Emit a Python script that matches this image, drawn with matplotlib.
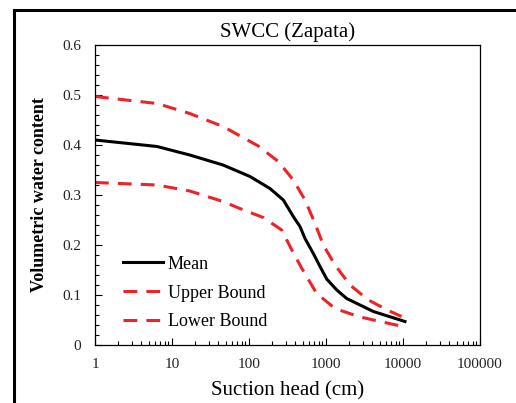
import matplotlib
matplotlib.use("Agg")
import matplotlib.pyplot as plt
from matplotlib.ticker import LogLocator, MultipleLocator, FuncFormatter, NullFormatter
from matplotlib.lines import Line2D

plt.rcParams['font.family'] = ['Liberation Serif', 'DejaVu Serif']

# Data
mean_x = [1, 6.4, 17, 46, 103, 187, 279, 376, 459, 534, 684, 850, 1021, 1380, 1855, 4120, 10600]
mean_y = [0.41, 0.397, 0.38, 0.36, 0.337, 0.313, 0.29, 0.257, 0.237, 0.213, 0.183, 0.155, 0.132, 0.11, 0.093, 0.067, 0.047]

upper_x = [1, 6.4, 17, 46, 132, 240, 376, 534, 720, 922, 1309, 2050, 3550, 6450, 9560]
upper_y = [0.497, 0.483, 0.463, 0.437, 0.398, 0.367, 0.33, 0.29, 0.243, 0.2, 0.16, 0.12, 0.09, 0.069, 0.057]

lower_x = [1, 6.4, 17, 46, 76, 153, 266, 360, 490, 757, 1309, 2630, 5040, 10000]
lower_y = [0.325, 0.32, 0.308, 0.287, 0.273, 0.255, 0.23, 0.19, 0.152, 0.103, 0.073, 0.057, 0.047, 0.037]

xticks = [1, 10, 100, 1000, 10000, 100000]
xticklabels = ['1', '10', '100', '1000', '10000', '100000']

fig = plt.figure(figsize=(5.16, 4.03), dpi=100)
ax = fig.add_axes([95/516, 1 - 345/403, (480-95)/516, (345-45)/403])

red = '#EE2229'
ax.plot(mean_x, mean_y, color='black', lw=2.2, label='Mean', solid_joinstyle='round')
ax.plot(upper_x, upper_y, color=red, lw=2.2, ls=(0, (4.5, 3)), label='Upper Bound')
ax.plot(lower_x, lower_y, color=red, lw=2.2, ls=(0, (4.5, 3)), label='Lower Bound')

ax.set_xscale('log')
ax.set_xlim(1, 100000)
ax.set_ylim(0, 0.6)
ax.set_xticks(xticks)
ax.set_xticklabels(xticklabels)
ax.xaxis.set_minor_locator(LogLocator(base=10, subs=range(2, 10), numticks=20))
ax.xaxis.set_minor_formatter(NullFormatter())
ax.yaxis.set_major_locator(MultipleLocator(0.1))
ax.yaxis.set_minor_locator(MultipleLocator(0.02))
ax.yaxis.set_major_formatter(FuncFormatter(lambda v, p: '%g' % round(v, 2)))

ax.tick_params(axis='both', which='both', direction='in', top=False, right=False,
               labelsize=11, colors='black')
ax.tick_params(axis='both', which='major', length=5, width=0.8)
ax.tick_params(axis='both', which='minor', length=3, width=0.8)
ax.tick_params(axis='x', which='major', pad=9)
ax.tick_params(axis='y', which='major', pad=10)
for tl in ax.get_xticklabels() + ax.get_yticklabels():
    tl.set_color('#222222')

for s in ax.spines.values():
    s.set_linewidth(0.9)

ax.set_title('SWCC (Zapata)', fontsize=15, pad=6)
ax.set_xlabel('Suction head (cm)', fontsize=15, labelpad=8)
ax.set_ylabel('Volumetric water content', fontsize=13, fontweight='bold', labelpad=10)

ax.legend(loc='lower left', bbox_to_anchor=(0.03, -0.005), frameon=False, fontsize=13,
          handlelength=2.2, handletextpad=0.3, labelspacing=0.65)

# outer frame
fig.add_artist(Line2D([14/516, 14/516], [0, 1 - 10/403], transform=fig.transFigure,
                      color='black', lw=2.2))
fig.add_artist(Line2D([14/516, 1], [1 - 10/403, 1 - 10/403], transform=fig.transFigure,
                      color='black', lw=2.2))

fig.savefig('out.png', dpi=100)
